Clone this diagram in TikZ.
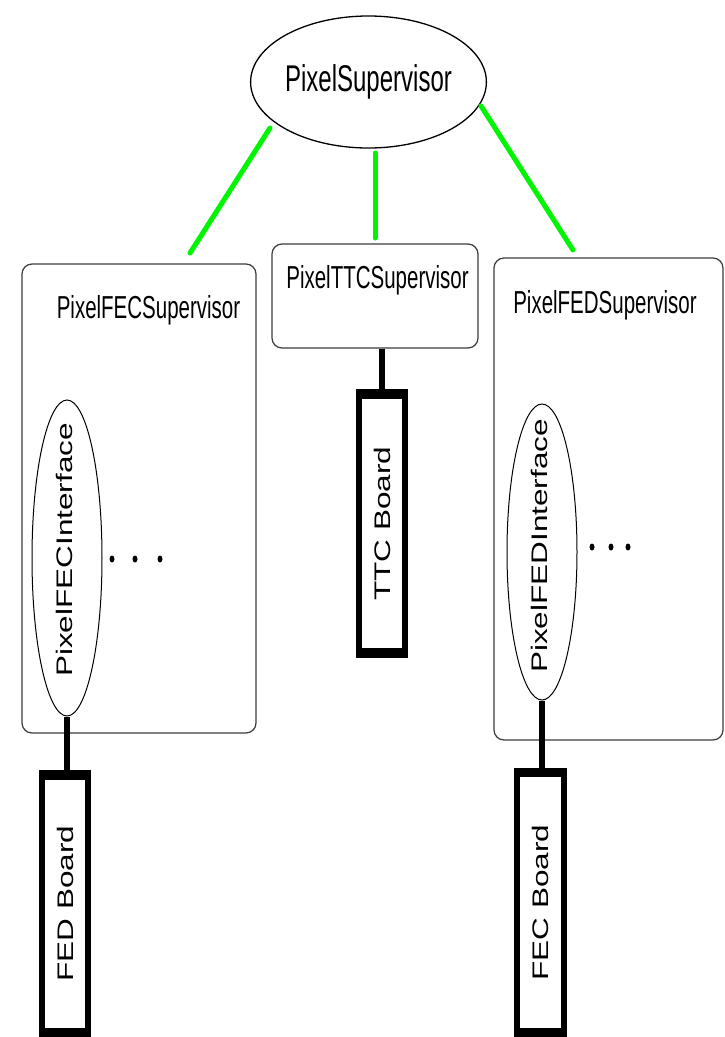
\documentclass[tikz,border=0pt]{standalone}
\usepackage{graphicx}
\usepackage{fontspec}
\setmainfont{Liberation Sans}
\usetikzlibrary{shapes.geometric}
\newcommand\myvstretch[1]{\scalebox{1}[1.55]{#1}}
\newcommand\myrottext[1]{\rotatebox{90}{\scalebox{1.4}[1]{#1}}}
\definecolor{linkgreen}{RGB}{0,245,0}
\definecolor{boxgray}{RGB}{60,60,60}
\tikzset{
  supbox/.style={draw=boxgray, line width=1.2pt, rounded corners=10pt, minimum width=#1},
  topell/.style={ellipse, draw=black, line width=1.3pt, inner sep=0pt, minimum width=225pt, minimum height=132pt},
  ifell/.style={ellipse, draw=black, line width=1pt, inner sep=0pt, minimum width=70pt},
  lbl/.style={anchor=base, inner sep=0pt, font=\fontsize{20.5}{24}\selectfont},
  rotlbl/.style={inner sep=0pt, font=\fontsize{22.5}{26}\selectfont},
  boardout/.style={fill=black, inner sep=0pt},
  boardin/.style={fill=white, inner sep=0pt, font=\fontsize{22.5}{26}\selectfont},
  greenlink/.style={draw=linkgreen, line width=5pt, line cap=round},
  blacklink/.style={draw=black, line width=6pt},
  dotmark/.style={fill=black}
}
\begin{document}
\begin{tikzpicture}[x=1pt,y=-1pt]
\useasboundingbox (0,0) rectangle (724,1037);
\fill[white] (0,0) rectangle (724,1037);

% top supervisor
\node[topell, font=\fontsize{24}{28}\selectfont] (ps) at (368.5,82) {\myvstretch{PixelSupervisor}};

% supervisor boxes
\node[supbox=234pt, minimum height=469pt] (fecsup) at (139,498.5) {};
\node[supbox=206pt, minimum height=104pt] (ttcsup) at (375,296) {};
\node[supbox=229pt, minimum height=482pt] (fedsup) at (608.5,499) {};

\node[lbl] (fecsuplbl) at (148.5,318) {\myvstretch{PixelFECSupervisor}};
\node[lbl] (ttcsuplbl) at (377.5,288) {\myvstretch{PixelTTCSupervisor}};
\node[lbl] (fedsuplbl) at (605,313) {\myvstretch{PixelFEDSupervisor}};

% interface ellipses
\node[ifell, minimum height=316pt] (fecif) at (67,558) {};
\node[rotlbl] (fecifl) at (64,550) {\myrottext{PixelFECInterface}};
\node[ifell, minimum height=296pt] (fedif) at (542,552) {};
\node[rotlbl] (fedifl) at (539,546) {\myrottext{PixelFEDInterface}};

% dots
\foreach \xx in {112,135,160}{
  \fill[dotmark] (\xx,559) ellipse [x radius=2.5pt, y radius=3.5pt];
}
\foreach \xx in {592,611,628}{
  \fill[dotmark] (\xx,547) ellipse [x radius=2.5pt, y radius=3.5pt];
}

% boards
\node[boardout, minimum width=52pt, minimum height=267pt] (fedb) at (65,903.5) {};
\node[boardin, minimum width=40pt, minimum height=248pt] (fedbin) at (65,903.5) {\myrottext{FED Board}};
\node[boardout, minimum width=52pt, minimum height=269pt] (ttcb) at (382,523.5) {};
\node[boardin, minimum width=40pt, minimum height=249pt] (ttcbin) at (382,523.5) {\myrottext{TTC Board}};
\node[boardout, minimum width=53pt, minimum height=269pt] (fecb) at (540.5,902.5) {};
\node[boardin, minimum width=41pt, minimum height=251pt] (fecbin) at (540.5,902.5) {\myrottext{FEC Board}};

% black connectors
\draw[blacklink] (fecif.south) -- (fecif.south |- fedb.north);
\draw[blacklink] (ttcb.north |- ttcsup.south) -- (ttcb.north);
\draw[blacklink] (fedif.south) -- (fedif.south |- fecb.north);

% green connectors
\coordinate (g1a) at (270,128);
\coordinate (g1b) at (190,253);
\coordinate (g2a) at (375,153);
\coordinate (g2b) at (375,238);
\coordinate (g3a) at (481,106);
\coordinate (g3b) at (573,250);
\draw[greenlink] (g1a) -- (g1b);
\draw[greenlink] (g2a) -- (g2b);
\draw[greenlink] (g3a) -- (g3b);
\end{tikzpicture}
\end{document}
